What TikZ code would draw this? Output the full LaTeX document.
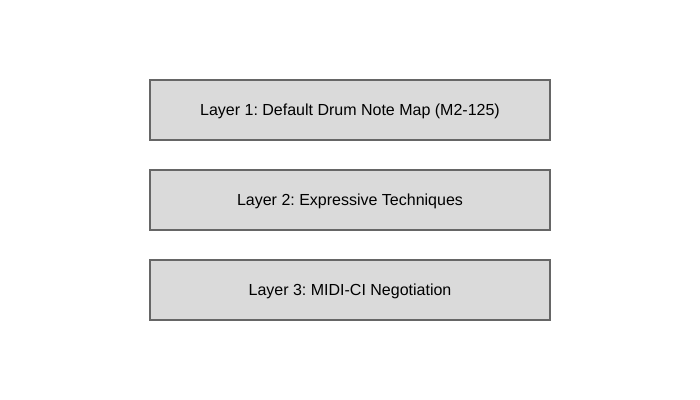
\documentclass[tikz,border=0pt]{standalone}
\usepackage{fontspec}
\setmainfont{Liberation Sans}
\frenchspacing
\definecolor{boxfill}{HTML}{DADADA}
\definecolor{boxline}{HTML}{666666}
\tikzset{layerbox/.style={draw=boxline, line width=1.5pt, fill=boxfill, minimum width=300pt, minimum height=45pt, inner sep=0pt, text height=10pt, text depth=2.2pt, font=\fontsize{12pt}{14pt}\selectfont}}
\begin{document}
\begin{tikzpicture}[x=0.75pt,y=-0.75pt]
\useasboundingbox (0,0) rectangle (700,400);
\node[layerbox] (l1) at (350,110) {Layer 1: Default Drum Note Map (M2-125)};
\node[layerbox] (l2) at (350,200) {Layer 2: Expressive Techniques};
\node[layerbox] (l3) at (350,290) {Layer 3: MIDI-CI Negotiation};
\end{tikzpicture}
\end{document}
